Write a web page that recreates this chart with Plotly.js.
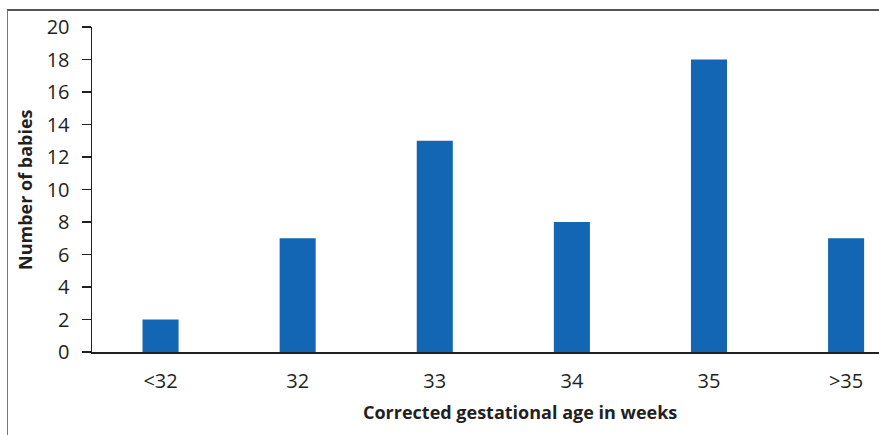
<!DOCTYPE html>
<html>
<head>
<meta charset="utf-8">
<script src="https://cdn.plot.ly/plotly-3.0.1.min.js"></script>
<style>
  html, body { margin: 0; padding: 0; background: #fff; overflow: hidden; }
  #frame { position: absolute; left: 7px; top: 9px; width: 900px; height: 500px;
           border-left: 1.5px solid #777; border-top: 2px solid #555; }
  #chart { position: absolute; left: 0; top: 0; width: 879px; height: 435px; }
</style>
</head>
<body>
<div id="frame"></div>
<div id="chart"></div>
<script>
const categories = ["<32", "32", "33", "34", "35", ">35"];
const babies = [2, 7, 13, 8, 18, 7];
const yTicks = [0, 2, 4, 6, 8, 10, 12, 14, 16, 18, 20];
const xTitle = "Corrected gestational age in weeks";
const yTitle = "Number of babies";

const textColor = "#231f20";
const fontFamily = "Open Sans, Noto Sans, sans-serif";

const trace = {
  type: "bar",
  x: categories,
  y: babies,
  marker: { color: "#1366b3" },
  width: 0.263,
  hoverinfo: "x+y"
};

const layout = {
  width: 879,
  height: 435,
  margin: { l: 92, r: 0, t: 27, b: 83 },
  paper_bgcolor: "rgba(0,0,0,0)",
  plot_bgcolor: "rgba(0,0,0,0)",
  showlegend: false,
  font: { family: fontFamily, color: textColor, size: 20 },
  xaxis: {
    type: "category",
    range: [-0.5, 5.24],
    showline: true,
    linecolor: textColor,
    linewidth: 1.5,
    ticks: "",
    showgrid: false,
    zeroline: false,
    tickfont: { size: 20, color: textColor },
    ticklabelstandoff: 10
  },
  yaxis: {
    range: [0, 20],
    tickvals: yTicks,
    showline: true,
    linecolor: textColor,
    linewidth: 1.5,
    ticks: "outside",
    ticklen: 9,
    tickwidth: 1.5,
    tickcolor: textColor,
    showgrid: false,
    zeroline: false,
    tickfont: { size: 20, color: textColor },
    ticklabelstandoff: 8
  },
  annotations: [
    {
      text: "<b>" + xTitle + "</b>",
      xref: "paper", yref: "paper",
      x: (520 - 92) / 787, y: -(412 - 352) / 325,
      xanchor: "center", yanchor: "middle",
      showarrow: false,
      font: { size: 18, color: textColor, family: fontFamily }
    },
    {
      text: "<b>" + yTitle + "</b>",
      xref: "paper", yref: "paper",
      x: -(92 - 25) / 787, y: (352 - 190) / 325,
      xanchor: "center", yanchor: "middle",
      textangle: -90,
      showarrow: false,
      font: { size: 18, color: textColor, family: fontFamily }
    }
  ]
};

Plotly.newPlot("chart", [trace], layout, { displayModeBar: false, staticPlot: true });
</script>
</body>
</html>
